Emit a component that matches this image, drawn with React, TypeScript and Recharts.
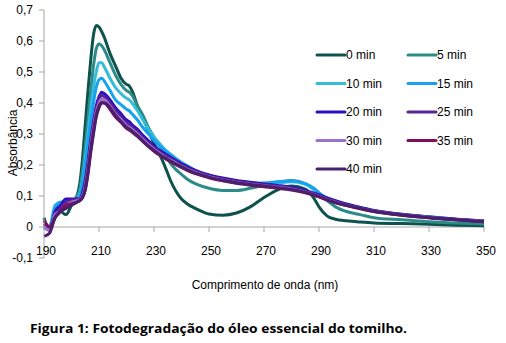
import React from 'react';
import { LineChart, Line, XAxis, YAxis, ReferenceLine } from 'recharts';

const wavelengths = [190,192,194,196,198,200,202,203,204,205,206,207,208,209,210,211,212,214,216,218,220,221,222,224,226,228,230,232,234,236,238,240,242,245,248,250,255,260,265,270,275,280,285,288,290,293,296,300,305,310,320,330,340,350];

const min0 = [0.03,-0.01,0.03,0.05,0.04,0.07,0.10,0.14,0.22,0.33,0.44,0.54,0.62,0.65,0.645,0.63,0.61,0.56,0.52,0.48,0.46,0.455,0.44,0.39,0.35,0.31,0.27,0.235,0.195,0.15,0.115,0.09,0.075,0.06,0.048,0.042,0.038,0.045,0.065,0.095,0.12,0.132,0.122,0.095,0.065,0.035,0.025,0.02,0.016,0.013,0.011,0.009,0.006,0.004];
const min5 = [0.02,0.0,0.05,0.06,0.07,0.08,0.10,0.12,0.18,0.26,0.35,0.44,0.52,0.575,0.59,0.585,0.57,0.53,0.49,0.46,0.44,0.435,0.425,0.39,0.36,0.32,0.29,0.265,0.235,0.205,0.185,0.17,0.155,0.14,0.13,0.125,0.118,0.118,0.125,0.135,0.145,0.15,0.14,0.125,0.11,0.085,0.065,0.05,0.04,0.03,0.023,0.017,0.013,0.01];
const min10 = [0.01,0.0,0.07,0.08,0.08,0.08,0.09,0.11,0.15,0.22,0.30,0.38,0.45,0.50,0.53,0.53,0.515,0.48,0.45,0.43,0.415,0.41,0.40,0.375,0.345,0.315,0.29,0.27,0.25,0.235,0.22,0.205,0.195,0.18,0.168,0.162,0.15,0.142,0.138,0.138,0.142,0.146,0.138,0.122,0.108,0.092,0.082,0.072,0.062,0.052,0.04,0.032,0.024,0.018];
const min15 = [0.01,0.0,0.06,0.08,0.08,0.08,0.09,0.10,0.14,0.20,0.27,0.34,0.40,0.45,0.475,0.48,0.47,0.44,0.41,0.395,0.38,0.375,0.365,0.345,0.32,0.30,0.28,0.262,0.247,0.233,0.22,0.208,0.198,0.183,0.172,0.166,0.155,0.147,0.142,0.142,0.146,0.148,0.14,0.125,0.11,0.093,0.083,0.073,0.063,0.053,0.041,0.033,0.025,0.019];
const min20 = [0.0,-0.01,0.05,0.07,0.09,0.09,0.09,0.09,0.11,0.15,0.21,0.28,0.34,0.39,0.42,0.435,0.43,0.41,0.385,0.365,0.345,0.34,0.33,0.315,0.295,0.278,0.262,0.248,0.236,0.225,0.214,0.204,0.195,0.183,0.173,0.168,0.158,0.15,0.144,0.139,0.134,0.128,0.118,0.11,0.104,0.094,0.085,0.074,0.063,0.053,0.041,0.032,0.025,0.019];
const min25 = [0.01,-0.005,0.04,0.06,0.08,0.085,0.09,0.09,0.10,0.14,0.20,0.27,0.33,0.38,0.41,0.425,0.42,0.40,0.375,0.355,0.335,0.33,0.322,0.307,0.288,0.272,0.256,0.243,0.231,0.22,0.21,0.2,0.191,0.179,0.17,0.165,0.155,0.147,0.141,0.136,0.131,0.125,0.115,0.107,0.101,0.091,0.082,0.072,0.061,0.052,0.04,0.031,0.024,0.018];
const min30 = [0.0,-0.01,0.04,0.05,0.07,0.08,0.085,0.088,0.10,0.13,0.19,0.26,0.32,0.37,0.40,0.412,0.41,0.39,0.365,0.347,0.327,0.322,0.315,0.3,0.282,0.266,0.251,0.238,0.226,0.216,0.206,0.196,0.187,0.176,0.167,0.162,0.152,0.144,0.138,0.133,0.128,0.122,0.113,0.105,0.099,0.089,0.08,0.07,0.06,0.051,0.039,0.031,0.023,0.018];
const min35 = [0.02,0.0,0.03,0.05,0.07,0.075,0.08,0.085,0.095,0.12,0.18,0.25,0.31,0.36,0.39,0.402,0.40,0.38,0.355,0.338,0.318,0.313,0.306,0.292,0.275,0.259,0.244,0.232,0.221,0.211,0.201,0.192,0.183,0.172,0.164,0.159,0.149,0.141,0.135,0.13,0.125,0.119,0.11,0.103,0.097,0.087,0.078,0.069,0.059,0.05,0.038,0.03,0.023,0.017];
const min40 = [-0.03,-0.02,0.03,0.05,0.06,0.07,0.08,0.085,0.095,0.12,0.17,0.24,0.30,0.355,0.385,0.40,0.40,0.385,0.36,0.34,0.322,0.316,0.309,0.295,0.277,0.261,0.247,0.234,0.223,0.213,0.203,0.194,0.185,0.174,0.166,0.161,0.151,0.143,0.137,0.132,0.127,0.121,0.112,0.104,0.098,0.088,0.079,0.07,0.06,0.05,0.039,0.03,0.023,0.017];

const seriesNames = ['0 min','5 min','10 min','15 min','20 min','25 min','30 min','35 min','40 min'];
const seriesValues = [min0,min5,min10,min15,min20,min25,min30,min35,min40];
const seriesColors = ['#0e524e','#2b8b88','#35bcd8','#16a2f0','#2a10c2','#5c2195','#9a72cc','#7d0f5e','#4a1f6e'];

const xTicks = [190,210,230,250,270,290,310,330,350];
const yTicks = [-0.1,0,0.1,0.2,0.3,0.4,0.5,0.6,0.7];

const xTitle = 'Comprimento de onda (nm)';
const yTitle = 'Absorbância';
const caption = 'Figura 1: Fotodegradação do óleo essencial do tomilho.';

const data = wavelengths.map((wl, i) => {
  const row: Record<string, number> = { wl };
  seriesNames.forEach((n, s) => { row[n] = seriesValues[s][i]; });
  return row;
});

const FONT = '"Liberation Sans", Arial, sans-serif';
const AXIS = '#a6a6a6';

const fmtY = (v: number) => (v === 0 ? '0' : v.toFixed(1).replace('.', ','));

const XTick = (props: any) => {
  const { x, y, payload } = props;
  return (
    <text x={x + 2} y={y} dy={-3} textAnchor="middle" fontFamily={FONT} fontSize={12} fill="#000">
      {payload.value}
    </text>
  );
};

export default function App() {
  return (
    <div style={{ position: 'absolute', left: 0, top: 0, width: 506, height: 343, background: '#fff' }}>
      <LineChart width={506} height={343} data={data} margin={{ top: 10, right: 22, bottom: 55, left: 0 }}>
        <XAxis
          dataKey="wl"
          type="number"
          domain={[190, 350]}
          ticks={xTicks}
          axisLine={false}
          tickLine={false}
          tickSize={0}
          tickMargin={0}
          height={30}
          tick={<XTick />}
          interval={0}
        />
        <YAxis
          type="number"
          domain={[-0.1, 0.7]}
          ticks={yTicks}
          width={44}
          tickFormatter={fmtY}
          axisLine={{ stroke: AXIS }}
          tickLine={{ stroke: AXIS }}
          tickSize={5}
          tickMargin={6}
          tick={{ fontFamily: FONT, fontSize: 12, fill: '#000' }}
          interval={0}
          allowDataOverflow
        />
        <ReferenceLine y={0} stroke={AXIS} strokeWidth={1} />
        {xTicks.slice(1).map((t) => (
          <ReferenceLine key={'t' + t} segment={[{ x: t, y: 0 }, { x: t, y: -0.016 }]} stroke={AXIS} strokeWidth={1} />
        ))}
        {seriesNames.map((n, i) => (
          <Line
            key={n}
            dataKey={n}
            stroke={seriesColors[i]}
            strokeWidth={3}
            dot={false}
            type="monotone"
            isAnimationActive={false}
          />
        ))}
      </LineChart>
      <svg width={506} height={343} style={{ position: 'absolute', left: 0, top: 0, pointerEvents: 'none' }}>
        <text x={13} y={143} transform="rotate(-90 13 143)" textAnchor="middle" dominantBaseline="central" fontFamily={FONT} fontSize={12} fill="#000">
          {yTitle}
        </text>
        <text x={265} y={285} textAnchor="middle" dominantBaseline="central" fontFamily={FONT} fontSize={12} fill="#000">
          {xTitle}
        </text>
        <text x={30} y={333} fontFamily='"Open Sans", "Noto Sans", sans-serif' fontWeight="bold" fontSize={13} fill="#000" textLength={377} lengthAdjust="spacingAndGlyphs">
          {caption}
        </text>
        {seriesNames.map((n, i) => {
          const col = i % 2;
          const row = Math.floor(i / 2);
          const lx = col === 0 ? 317 : 408;
          const ly = 55 + row * 28.5;
          return (
            <g key={'lg' + n}>
              <line x1={lx} y1={ly} x2={lx + 28} y2={ly} stroke={seriesColors[i]} strokeWidth={3} strokeLinecap="round" />
              <text x={lx + 29} y={ly} dominantBaseline="central" fontFamily={FONT} fontSize={12} fill="#000">
                {n}
              </text>
            </g>
          );
        })}
      </svg>
    </div>
  );
}
